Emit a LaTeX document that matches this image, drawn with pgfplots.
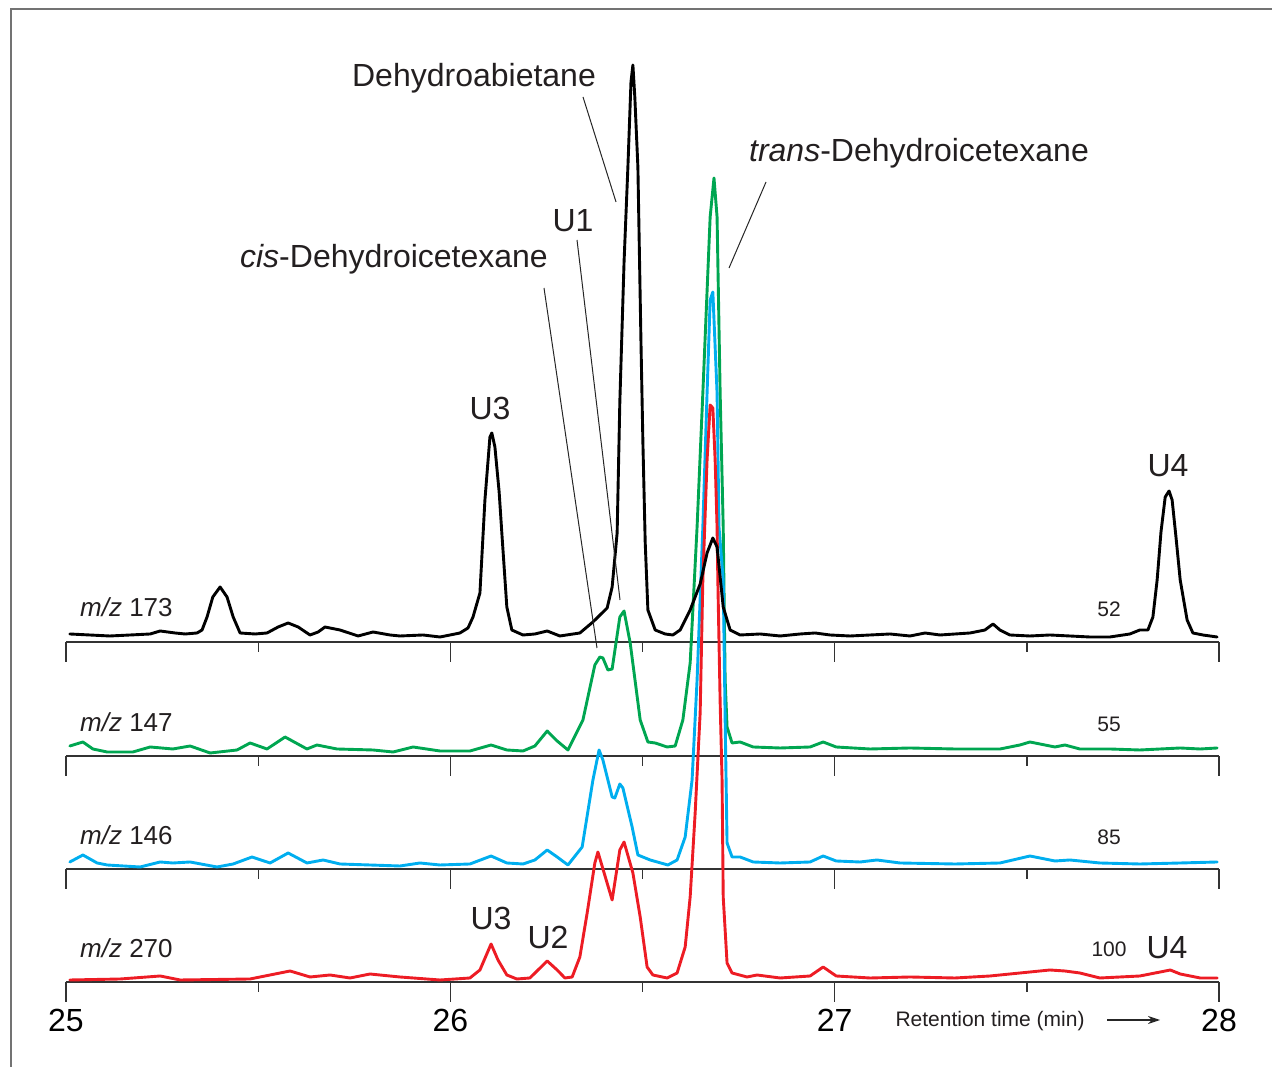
\documentclass[border=0pt]{standalone}
\usepackage{pgfplots}
\pgfplotsset{compat=1.18}
\usepackage{pgfplotstable}
\usetikzlibrary{arrows.meta}
\usepackage{fontspec}
\setmainfont{Liberation Sans}
\definecolor{cgreen}{RGB}{0,166,81}
\definecolor{cblue}{RGB}{0,174,239}
\definecolor{cred}{RGB}{237,28,36}
\definecolor{ctext}{RGB}{35,31,32}

% t = retention time (min), h = signal height above the trace's own baseline
\pgfplotstableread{
t h
25.010 8
25.062 7
25.114 6
25.167 7
25.219 8
25.245 11
25.284 9
25.310 8
25.341 9
25.354 12
25.367 25
25.382 45
25.401 55
25.419 45
25.435 25
25.453 9
25.492 8
25.523 9
25.552 15
25.578 19
25.604 15
25.635 7
25.656 10
25.674 15
25.713 12
25.760 6
25.799 10
25.843 7
25.869 6
25.929 7
25.973 5
26.025 9
26.046 14
26.059 25
26.077 49
26.090 142
26.103 205
26.108 209
26.116 195
26.127 150
26.134 109
26.147 35
26.160 12
26.189 7
26.220 8
26.252 11
26.285 6
26.337 9
26.371 20
26.408 34
26.421 55
26.434 109
26.441 240
26.452 380
26.462 475
26.470 560
26.475 577
26.480 545
26.488 475
26.496 300
26.501 200
26.507 100
26.514 32
26.533 12
26.559 8
26.579 7
26.598 12
26.624 32
26.650 58
26.668 89
26.683 104
26.694 95
26.710 35
26.728 12
26.754 7
26.806 8
26.858 6
26.910 8
26.949 9
26.988 7
27.040 6
27.092 7
27.144 8
27.196 6
27.235 9
27.274 7
27.313 8
27.352 9
27.391 12
27.412 18
27.430 12
27.456 7
27.508 6
27.560 7
27.612 6
27.664 5
27.716 5
27.768 8
27.794 12
27.815 12
27.828 25
27.839 62
27.849 110
27.860 145
27.870 151
27.878 142
27.888 105
27.899 62
27.917 22
27.932 9
27.958 7
27.995 5
}\tblack

\pgfplotstableread{
t h
25.010 10
25.044 14
25.070 7
25.107 4
25.174 4
25.219 9
25.278 7
25.323 10
25.375 3
25.445 6
25.479 13
25.523 7
25.570 19
25.627 7
25.653 11
25.705 7
25.799 6
25.851 4
25.903 9
25.973 5
26.051 5
26.106 11
26.147 6
26.189 5
26.220 10
26.252 25
26.278 15
26.306 6
26.345 36
26.376 91
26.389 99
26.397 98
26.410 86
26.421 87
26.441 139
26.452 145
26.468 113
26.494 36
26.514 14
26.533 13
26.564 9
26.585 10
26.605 36
26.624 93
26.642 229
26.657 363
26.676 539
26.686 578
26.694 539
26.702 363
26.710 229
26.715 76
26.720 29
26.733 13
26.754 14
26.788 9
26.858 8
26.936 9
26.970 14
27.004 9
27.092 7
27.196 8
27.313 7
27.430 7
27.482 11
27.508 14
27.534 12
27.573 9
27.599 11
27.638 7
27.716 7
27.794 6
27.899 8
27.951 7
27.995 8
}\tgreen

\pgfplotstableread{
t h
25.010 7
25.044 14
25.081 6
25.107 4
25.193 2
25.245 7
25.278 6
25.323 7
25.393 2
25.435 5
25.484 12
25.531 6
25.578 16
25.627 6
25.669 9
25.713 5
25.869 3
25.921 6
25.973 4
26.051 5
26.106 13
26.147 6
26.189 5
26.220 9
26.252 19
26.278 12
26.306 4
26.343 22
26.371 89
26.387 119
26.397 109
26.421 72
26.428 71
26.441 85
26.449 81
26.473 42
26.488 14
26.520 9
26.566 4
26.590 9
26.611 32
26.629 89
26.642 189
26.657 342
26.668 476
26.676 569
26.683 577
26.694 476
26.699 342
26.710 289
26.715 150
26.720 26
26.733 12
26.754 12
26.788 7
26.858 6
26.936 7
26.970 13
27.004 8
27.066 7
27.110 9
27.170 6
27.313 5
27.430 6
27.508 13
27.573 8
27.612 9
27.690 6
27.794 5
27.899 6
27.995 7
}\tblue

\pgfplotstableread{
t h
25.010 2
25.141 3
25.245 6
25.297 2
25.479 3
25.583 11
25.635 5
25.687 7
25.739 4
25.791 8
25.869 5
25.973 2
26.051 4
26.077 12
26.106 38
26.124 22
26.147 7
26.173 3
26.207 4
26.252 21
26.278 12
26.298 4
26.317 5
26.337 25
26.356 69
26.376 119
26.384 130
26.421 82
26.441 132
26.452 140
26.475 109
26.494 65
26.512 15
26.527 7
26.564 4
26.590 9
26.611 35
26.624 85
26.637 169
26.650 269
26.657 402
26.668 522
26.676 577
26.683 574
26.689 522
26.694 455
26.696 402
26.702 280
26.707 202
26.710 85
26.720 19
26.733 9
26.772 5
26.798 7
26.858 4
26.936 6
26.970 15
27.004 6
27.092 4
27.196 5
27.313 4
27.404 6
27.508 10
27.560 12
27.599 11
27.638 9
27.690 4
27.794 6
27.847 10
27.873 12
27.899 8
27.951 4
27.995 4
}\tred

% #1 = baseline, #2 = end of long ticks, #3 = end of short ticks
\newcommand{\traceaxis}[3]{%
  \draw[line width=1.3pt,black!80] (axis cs:25,#1) -- (axis cs:28,#1);
  \draw[line width=1.3pt,black!80] (axis cs:25,#1) -- (axis cs:25,#2);
  \draw[line width=1.3pt,black!80] (axis cs:25.5,#1) -- (axis cs:25.5,#3);
  \draw[line width=1.3pt,black!80] (axis cs:26,#1) -- (axis cs:26,#2);
  \draw[line width=1.3pt,black!80] (axis cs:26.5,#1) -- (axis cs:26.5,#3);
  \draw[line width=1.3pt,black!80] (axis cs:27,#1) -- (axis cs:27,#2);
  \draw[line width=1.3pt,black!80] (axis cs:27.5,#1) -- (axis cs:27.5,#3);
  \draw[line width=1.3pt,black!80] (axis cs:28,#1) -- (axis cs:28,#2);
}

\begin{document}
\begin{tikzpicture}
\begin{axis}[
  width=1272pt, height=1067pt, scale only axis, hide axis, clip=false,
  xmin=24.8283, xmax=28.1379, ymin=0, ymax=1067,
]
% frame
\draw[black!55, line width=1.6pt] (rel axis cs:0.00865,0) -- (rel axis cs:0.00865,0.99157) -- (rel axis cs:1,0.99157);

% trace baselines
\traceaxis{425}{405}{415}
\traceaxis{311}{291}{301}
\traceaxis{198}{178}{188}
\traceaxis{85}{65}{75}

% traces
\addplot[cgreen, line width=2.9pt, line join=round, line cap=round, no markers] table[x=t, y expr=\thisrow{h}+311] {\tgreen};
\addplot[cblue, line width=2.9pt, line join=round, line cap=round, no markers] table[x=t, y expr=\thisrow{h}+198] {\tblue};
\addplot[cred, line width=2.9pt, line join=round, line cap=round, no markers] table[x=t, y expr=\thisrow{h}+85] {\tred};
\addplot[black, line width=2.9pt, line join=round, line cap=round, no markers] table[x=t, y expr=\thisrow{h}+425] {\tblack};

% leader lines
\draw[black!85, line width=1pt] (axis cs:26.3452,970) -- (axis cs:26.4311,865);
\draw[black!85, line width=1pt] (axis cs:26.8214,885) -- (axis cs:26.7251,799);
\draw[black!85, line width=1pt] (axis cs:26.3296,827) -- (axis cs:26.4415,467);
\draw[black!85, line width=1pt] (axis cs:26.2437,779) -- (axis cs:26.3816,419);

% compound labels
\begin{scope}[every node/.style={text=ctext, inner sep=0pt, font=\fontsize{32}{36}\selectfont}]
\node at (axis cs:26.0616,989) {Dehydroabietane};
\node at (axis cs:27.2194,914) {\textit{trans}-Dehydroicetexane};
\node at (axis cs:26.3192,846) {U1};
\node at (axis cs:25.8534,808) {\textit{cis}-Dehydroicetexane};
\node at (axis cs:26.1032,659) {U3};
\node at (axis cs:27.8673,601) {U4};
\node at (axis cs:26.1058,149) {U3};
\node at (axis cs:26.2541,130) {U2};
\node at (axis cs:27.8647,119) {U4};
\end{scope}

% trace labels
\begin{scope}[every node/.style={text=ctext, inner sep=0pt, anchor=west, font=\fontsize{26}{30}\selectfont}]
\node at (axis cs:25.0364,460) {\textit{m/z} 173};
\node at (axis cs:25.0364,345) {\textit{m/z} 147};
\node at (axis cs:25.0364,232) {\textit{m/z} 146};
\node at (axis cs:25.0364,119) {\textit{m/z} 270};
\end{scope}
\begin{scope}[every node/.style={text=ctext, inner sep=0pt, font=\fontsize{21}{25}\selectfont}]
\node at (axis cs:27.7138,458) {52};
\node at (axis cs:27.7138,343) {55};
\node at (axis cs:27.7138,230) {85};
\node at (axis cs:27.7138,118) {100};
\node at (axis cs:27.4042,46) {Retention time (min)};
\end{scope}

% time axis labels
\begin{scope}[every node/.style={text=black, inner sep=0pt, font=\fontsize{32}{36}\selectfont}]
\node at (axis cs:25,47) {25};
\node at (axis cs:26,47) {26};
\node at (axis cs:27,47) {27};
\node at (axis cs:28,47) {28};
\end{scope}
\draw[black!85, line width=1.3pt, -{Stealth[length=12pt,width=8pt]}] (axis cs:27.7086,47) -- (axis cs:27.8465,47);
\end{axis}
\pgfresetboundingbox
\useasboundingbox (0,0) rectangle (1272pt,1067pt);
\end{tikzpicture}
\end{document}
